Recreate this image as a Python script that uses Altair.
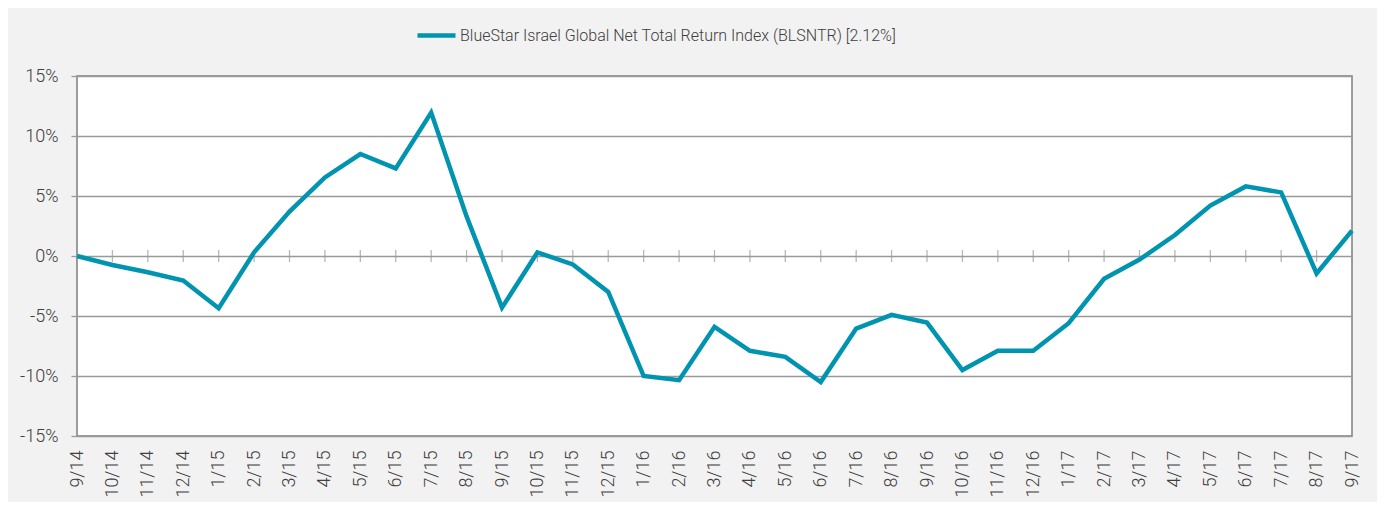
import altair as alt
import pandas as pd

months = ["9/14", "10/14", "11/14", "12/14", "1/15", "2/15", "3/15", "4/15", "5/15", "6/15",
          "7/15", "8/15", "9/15", "10/15", "11/15", "12/15", "1/16", "2/16", "3/16", "4/16",
          "5/16", "6/16", "7/16", "8/16", "9/16", "10/16", "11/16", "12/16", "1/17", "2/17",
          "3/17", "4/17", "5/17", "6/17", "7/17", "8/17", "9/17"]
returns = [0.0, -0.75, -1.35, -2.05, -4.35, 0.3, 3.7, 6.55, 8.5, 7.3,
           11.95, 3.3, -4.3, 0.3, -0.7, -3.0, -10.0, -10.35, -5.9, -7.9,
           -8.4, -10.5, -6.05, -4.9, -5.55, -9.5, -7.9, -7.9, -5.6, -1.9,
           -0.3, 1.75, 4.2, 5.8, 5.3, -1.45, 2.12]
series_name = "BlueStar Israel Global Net Total Return Index (BLSNTR) [2.12%]"
y_ticks = [-15, -10, -5, 0, 5, 10, 15]

df = pd.DataFrame({"month": months, "ret": returns, "series": series_name})
zero_df = pd.DataFrame({"month": months, "zero": [0] * len(months)})

FONT = "Roboto"
FS = 18
x_enc = alt.X("month:O", sort=months,
              scale=alt.Scale(type="point", padding=0),
              axis=alt.Axis(title=None, labelAngle=-90, ticks=False, domain=False,
                            labelPadding=14, labelFontSize=FS, labelFont=FONT,
                            labelFontWeight=300, labelColor="#404040", grid=False))

line = alt.Chart(df).mark_line(strokeWidth=4.5).encode(
    x=x_enc,
    y=alt.Y("ret:Q", scale=alt.Scale(domain=[-15, 15], nice=False),
            axis=alt.Axis(title=None, values=y_ticks, labelExpr="datum.value + '%'",
                          grid=True, gridColor="#999999", gridWidth=1.3,
                          tickSize=6, tickColor="#999999", tickWidth=1.3,
                          domain=False, labelPadding=13, labelFontSize=FS,
                          labelFont=FONT, labelFontWeight=300, labelColor="#404040")),
    color=alt.Color("series:N", scale=alt.Scale(range=["#0094B0"]),
                    legend=alt.Legend(title=None, orient="none", legendX=338, legendY=-62,
                                      symbolType="stroke", symbolSize=1444,
                                      symbolStrokeWidth=4.5, labelFontSize=16,
                                      labelFont=FONT, labelFontWeight=300, labelLimit=0,
                                      labelColor="#404040", labelOffset=2, padding=0)),
)

ticks = alt.Chart(zero_df).mark_tick(orient="vertical", size=12, thickness=1.3,
                                     color="#999999").encode(
    x=alt.X("month:O", sort=months, scale=alt.Scale(type="point", padding=0)),
    y=alt.Y("zero:Q"),
)

chart = alt.layer(ticks, line).properties(
    width=1275, height=360,
    autosize=alt.AutoSizeParams(type="none"),
    padding={"left": 69, "top": 68, "right": 25, "bottom": 66},
    background="#f2f2f2",
).configure_view(
    fill="white", stroke="#7f7f7f", strokeWidth=1.5
)

chart.save("out.html", embed_options={"renderer": "svg", "actions": False})
